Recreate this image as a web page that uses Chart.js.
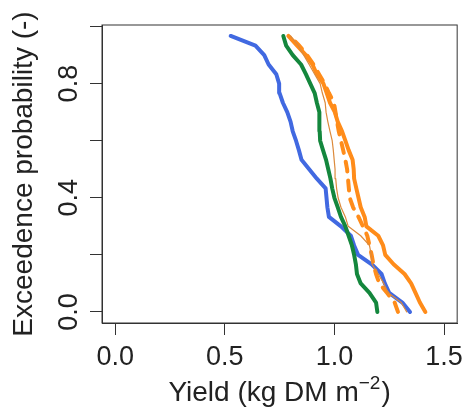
<!DOCTYPE html>
<html lang="en">
    <head>
        <meta charset="UTF-8">
        <title>Exceedence probability of yield</title>
        <script src="https://cdn.jsdelivr.net/npm/chart.js"></script>
        <style>
            body,
            html {
                margin: 0;
                padding: 0;
                background: white;
            }
            .wrap {
                width: 469px;
                height: 419px;
                position: relative;
            }
        </style>
    </head>
    <body>
        <div class="wrap">
            <canvas id="myChart"></canvas>
        </div>

        <script>
            // exceedence probability of each ranked year (y axis)
            const probs = [
                0.000, 0.033, 0.067, 0.100, 0.133, 0.167, 0.200, 0.233, 0.267, 0.300,
                0.333, 0.367, 0.400, 0.433, 0.467, 0.500, 0.533, 0.567, 0.600, 0.633,
                0.667, 0.700, 0.733, 0.767, 0.800, 0.833, 0.867, 0.900, 0.933, 0.967
            ];

            // yields (kg DM m-2), same order as probs
            const blueYield = [
                1.345, 1.31, 1.25, 1.23, 1.215, 1.17, 1.108, 1.09, 1.075, 1.03,
                0.975, 0.968, 0.964, 0.96, 0.92, 0.885, 0.85, 0.838, 0.825, 0.81,
                0.80, 0.785, 0.765, 0.75, 0.748, 0.735, 0.70, 0.68, 0.64, 0.527
            ];
            const greenYield = [
                1.196, 1.19, 1.16, 1.12, 1.103, 1.098, 1.09, 1.08, 1.065, 1.05,
                1.03, 1.015, 1.0, 0.99, 0.982, 0.972, 0.962, 0.948, 0.935, 0.933,
                0.932, 0.931, 0.92, 0.91, 0.89, 0.87, 0.848, 0.81, 0.78, 0.767
            ];
            const orangeYield = [
                1.415, 1.39, 1.37, 1.35, 1.32, 1.27, 1.232, 1.222, 1.20, 1.146,
                1.138, 1.12, 1.11, 1.10, 1.09, 1.088, 1.083, 1.065, 1.05, 1.035,
                1.015, 1.002, 0.98, 0.965, 0.95, 0.92, 0.9, 0.87, 0.83, 0.79
            ];
            const orangeDashYield = [
                1.29, 1.275, 1.24, 1.205, 1.19, 1.178, 1.17, 1.16, 1.15, 1.13,
                1.11, 1.085, 1.07, 1.066, 1.062, 1.058, 1.05, 1.04, 1.03, 1.02,
                1.012, 1.005, 0.998, 0.975, 0.955, 0.93, 0.905, 0.875, 0.84, 0.795
            ];
            const thinYield = [
                1.33, 1.305, 1.245, 1.225, 1.2, 1.172, 1.168, 1.16, 1.12, 1.063,
                1.05, 1.03, 1.017, 1.01, 1.006, 1.003, 0.999, 0.995, 0.99, 0.98,
                0.97, 0.962, 0.958, 0.945, 0.935, 0.91, 0.885, 0.86, 0.835, 0.80
            ];

            const xTicks = [0, 0.5, 1.0, 1.5];
            const yTicks = [0, 0.2, 0.4, 0.6, 0.8, 1.0];
            const yLabelled = [0, 0.4, 0.8];

            const FONT = "'Liberation Sans', Arial, sans-serif";
            const INK = '#222';

            function toPoints(values) {
                return probs.map((p, i) => ({x: values[i], y: p}));
            }

            function series(values, color, width, dash) {
                return {
                    data: toPoints(values),
                    borderColor: color,
                    backgroundColor: color,
                    borderWidth: width,
                    borderDash: dash || [],
                    borderCapStyle: 'round',
                    borderJoinStyle: 'round',
                    showLine: true,
                    pointRadius: 0,
                    tension: 0,
                    fill: false
                };
            }

            // full box round the plot region plus the x title with superscript
            const boxAndTitle = {
                id: 'boxAndTitle',
                afterDraw(chart) {
                    const {ctx, chartArea} = chart;
                    ctx.save();
                    ctx.strokeStyle = '#333';
                    ctx.lineWidth = 1;
                    ctx.strokeRect(chartArea.left, chartArea.top,
                        chartArea.right - chartArea.left, chartArea.bottom - chartArea.top);

                    const main = 'Yield (kg DM m';
                    const sup = '\u22122';
                    const tail = ')';
                    ctx.fillStyle = INK;
                    ctx.textBaseline = 'alphabetic';
                    ctx.textAlign = 'left';
                    ctx.font = '28px ' + FONT;
                    const wMain = ctx.measureText(main).width;
                    const wTail = ctx.measureText(tail).width;
                    ctx.font = '19px ' + FONT;
                    const wSup = ctx.measureText(sup).width;
                    const total = wMain + wSup + wTail + 1;
                    let x = (chartArea.left + chartArea.right) / 2 - total / 2;
                    const base = 401;
                    ctx.font = '28px ' + FONT;
                    ctx.fillText(main, x, base);
                    x += wMain;
                    ctx.font = '19px ' + FONT;
                    ctx.fillText(sup, x, base - 12);
                    x += wSup + 1;
                    ctx.font = '28px ' + FONT;
                    ctx.fillText(tail, x, base);
                    ctx.restore();
                }
            };

            const ctx = document.getElementById('myChart').getContext('2d');
            new Chart(ctx, {
                type: 'scatter',
                data: {
                    // first dataset is drawn on top
                    datasets: [
                        series(thinYield, '#dc8a3c', 1.2),
                        series(orangeDashYield, '#ff8c1a', 4, [10, 9]),
                        series(orangeYield, '#ff8c1a', 4),
                        series(greenYield, '#14873d', 4),
                        series(blueYield, '#4169e1', 4)
                    ]
                },
                options: {
                    responsive: true,
                    maintainAspectRatio: false,
                    animation: false,
                    layout: {
                        padding: {top: 25, right: 6, left: 0, bottom: 0}
                    },
                    plugins: {
                        legend: {display: false},
                        tooltip: {enabled: false}
                    },
                    scales: {
                        x: {
                            type: 'linear',
                            min: -0.06,
                            max: 1.56,
                            afterBuildTicks: s => {
                                s.ticks = xTicks.map(v => ({value: v}));
                            },
                            afterFit: s => {
                                s.height = 96;
                            },
                            grid: {
                                drawOnChartArea: false,
                                drawTicks: true,
                                tickLength: 12,
                                color: '#333'
                            },
                            border: {display: true, color: '#333'},
                            ticks: {
                                autoSkip: false,
                                maxRotation: 0,
                                padding: 6,
                                color: INK,
                                font: {family: FONT, size: 27},
                                callback: v => v.toFixed(1)
                            },
                            title: {display: false}
                        },
                        y: {
                            type: 'linear',
                            min: -0.0387,
                            max: 1.0054,
                            afterBuildTicks: s => {
                                s.ticks = yTicks.map(v => ({value: v}));
                            },
                            afterFit: s => {
                                s.width = 102;
                            },
                            grid: {
                                drawOnChartArea: false,
                                drawTicks: true,
                                tickLength: 12,
                                color: '#333'
                            },
                            border: {display: true, color: '#333'},
                            ticks: {
                                autoSkip: false,
                                minRotation: 90,
                                maxRotation: 90,
                                crossAlign: 'center',
                                padding: 2,
                                color: INK,
                                font: {family: FONT, size: 27},
                                callback: v => yLabelled.some(t => Math.abs(t - v) < 1e-6) ? v.toFixed(1) : ''
                            },
                            title: {
                                display: true,
                                text: 'Exceedence probability (-)',
                                color: INK,
                                padding: {top: 7, bottom: 0},
                                font: {family: FONT, size: 28}
                            }
                        }
                    }
                },
                plugins: [boxAndTitle]
            });
        </script>
    </body>
</html>
